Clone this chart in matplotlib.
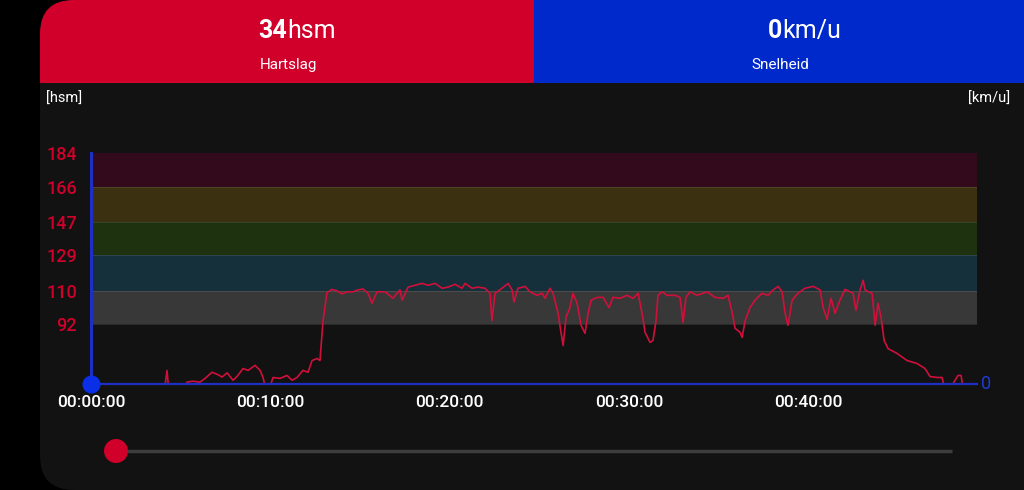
import matplotlib
matplotlib.use('Agg')
import matplotlib.pyplot as plt
from matplotlib.patches import FancyBboxPatch, Rectangle, Circle

plt.rcParams['font.family'] = ['Roboto', 'DejaVu Sans']

# ---------------- data ----------------
minutes = [0.00, 3.85, 4.07, 4.24, 4.35, 4.52, 5.13, 5.35, 5.69, 6.08, 6.36, 6.75, 7.08, 7.31,
           7.59, 7.92, 8.14, 8.48, 8.76, 9.15, 9.43, 9.59, 9.76, 9.93, 10.15, 10.54, 10.93,
           11.21, 11.49, 11.82, 12.10, 12.33, 12.60, 12.77, 12.94, 13.16, 13.44, 13.72, 14.00,
           14.28, 14.61, 14.89, 15.17, 15.45, 15.67, 15.95, 16.40, 16.84, 17.23, 17.35, 17.68,
           18.07, 18.46, 18.80, 19.19, 19.58, 19.91, 20.30, 20.69, 20.86, 21.25, 21.58, 21.97,
           22.25, 22.36, 22.53, 22.92, 23.26, 23.48, 23.59, 23.81, 24.09, 24.21, 24.48, 24.87,
           25.15, 25.32, 25.60, 25.77, 26.05, 26.21, 26.33, 26.49, 26.71, 26.88, 27.11, 27.33,
           27.55, 27.72, 27.89, 28.22, 28.56, 28.89, 29.11, 29.50, 29.89, 30.23, 30.51, 30.73,
           30.90, 31.18, 31.34, 31.51, 31.62, 31.85, 32.12, 32.57, 32.85, 33.02, 33.18, 33.41,
           33.80, 34.36, 34.80, 35.25, 35.53, 35.75, 35.92, 36.20, 36.31, 36.48, 36.75, 37.03,
           37.42, 37.76, 38.04, 38.32, 38.54, 38.71, 38.87, 39.10, 39.43, 39.82, 40.27, 40.66,
           40.83, 41.05, 41.27, 41.49, 41.77, 42.05, 42.33, 42.50, 42.66, 42.89, 43.06, 43.17,
           43.34, 43.56, 43.73, 43.89, 44.06, 44.23, 44.45, 44.95, 45.51, 46.07, 46.51, 46.79,
           47.18, 47.46, 47.63, 47.91, 48.08, 48.35, 48.52, 48.63, 48.80]
heart_rate = [50, 50, 55, 67.3, 55, 50, 52, 61, 61.5, 61, 63, 66.3, 65, 63.7,
              66, 62, 64, 68.3, 67.3, 70, 67.3, 63.5, 57, 57, 63.5, 63, 64.6,
              62, 63.5, 67.3, 66.3, 72.6, 73.7, 72.6, 94, 109, 110.8, 110, 108.4,
              109.5, 109.5, 110.5, 111, 108.7, 103.3, 109.5, 109.5, 106, 110.5, 105, 112,
              113, 114, 113, 114, 111.4, 112, 113.5, 111.4, 114, 111.4, 112, 111.4,
              108.7, 94, 108.7, 111.4, 114, 110.5, 104, 111.4, 112, 112.4, 109.5, 107.6,
              108.7, 106, 111.4, 108.7, 97.9, 87.7, 80.7, 95.8, 101, 108.7, 103.3, 91.5,
              87.2, 97.9, 105, 106.5, 106.5, 101, 106.5, 106, 107.6, 106, 108.7, 97.9,
              87.7, 82.3, 83.4, 94, 107.6, 109.5, 107.6, 107.6, 106.5, 93, 106.5, 109.5,
              107.6, 109.5, 106.5, 106, 107.6, 98.5, 89.9, 87.7, 85, 94, 101, 105,
              108.7, 107.6, 110.5, 112.4, 109.5, 97.9, 91.5, 105, 108.7, 111.4, 112.4, 110.5,
              101, 94.7, 106, 97.9, 105, 110.8, 109.5, 108.7, 99.5, 110.5, 115.7, 110.5,
              109.5, 108.7, 91.5, 103.3, 95.8, 83.4, 79, 76.4, 72.6, 71, 68.3, 64,
              63.5, 63.5, 57, 57, 60.3, 64.6, 64.6, 58, 55]

zone_bounds = [92, 110, 129, 147, 166, 184]
zone_colors = ['#383838', '#15303a', '#1f3210', '#3b3110', '#330a1c']
hr_axis_min = 60
time_max = 49.41
x_ticks = [0, 10, 20, 30, 40]
x_tick_labels = ['00:00:00', '00:10:00', '00:20:00', '00:30:00', '00:40:00']
speed_zero = 0
current_hr = '34'
current_speed = '0'

RED = '#d0002a'
BLUE = '#0029cc'
CARD = '#121212'
LINE_RED = '#d0103a'
AXIS_BLUE = '#1f2fc4'

# ---------------- figure ----------------
W, H = 1024, 490
fig = plt.figure(figsize=(W / 100, H / 100), dpi=100, facecolor='black')

bg = fig.add_axes([0, 0, 1, 1], zorder=0)
bg.set_xlim(0, W)
bg.set_ylim(H, 0)
bg.axis('off')
bg.set_facecolor('black')

card = FancyBboxPatch((40, 0), 1200, 490, boxstyle='round,pad=0,rounding_size=34',
                      fc=CARD, ec='none')
bg.add_patch(card)
r1 = Rectangle((40, 0), 494, 83, fc=RED, ec='none')
r2 = Rectangle((534, 0), 600, 83, fc=BLUE, ec='none')
for r in (r1, r2):
    bg.add_patch(r)
    r.set_clip_path(card)

# header texts
bg.text(287, 31, current_hr, color='white', fontsize=18, fontweight='bold', ha='right', va='center')
bg.text(287, 31, 'hsm', color='white', fontsize=18, ha='left', va='center')
bg.text(288, 65, 'Hartslag', color='white', fontsize=11, ha='center', va='center')
bg.text(782, 31, current_speed, color='white', fontsize=18, fontweight='bold', ha='right', va='center')
bg.text(782, 31, 'km/u', color='white', fontsize=18, ha='left', va='center')
bg.text(780, 65, 'Snelheid', color='white', fontsize=11, ha='center', va='center')
bg.text(46, 99, '[hsm]', color='white', fontsize=10.5, ha='left', va='center')
bg.text(1010, 99, '[km/u]', color='white', fontsize=10.5, ha='right', va='center')

# slider
bg.plot([116, 952], [451, 451], color='#3d3d3d', lw=2.5, solid_capstyle='butt', zorder=2)
bg.add_patch(Circle((116, 451), 12, fc=RED, ec='none', zorder=3))

# ---------------- main chart ----------------
ax = fig.add_axes([91 / W, 106 / H, 886 / W, 231 / H], zorder=2)
ax.set_facecolor('none')
ax.set_xlim(0, time_max)
ax.set_ylim(hr_axis_min, zone_bounds[-1])

for lo, hi, c in zip(zone_bounds[:-1], zone_bounds[1:], zone_colors):
    ax.axhspan(lo, hi, color=c, zorder=0, lw=0)
for b in zone_bounds[:-1]:
    ax.axhline(b, color='#ffffff', alpha=0.10, lw=0.8, zorder=0.5)

ax.plot(minutes, heart_rate, color=LINE_RED, lw=1.2, zorder=3)

# speed baseline (0 km/u)
ax.axhline(hr_axis_min, color=AXIS_BLUE, lw=1.6, zorder=4, clip_on=False)
ax.plot([0], [hr_axis_min], 'o', ms=12, color='#0a2fe6', zorder=5, clip_on=False)

for s in ['top', 'right', 'bottom']:
    ax.spines[s].set_visible(False)
ax.spines['left'].set_color(AXIS_BLUE)
ax.spines['left'].set_linewidth(2.2)

ax.set_yticks(zone_bounds)
ax.set_yticklabels([str(v) for v in zone_bounds])
ax.set_xticks(x_ticks)
ax.set_xticklabels(x_tick_labels)
ax.tick_params(axis='y', length=0, pad=10, labelcolor=RED, labelsize=13)
ax.tick_params(axis='x', length=0, pad=8, labelcolor='white', labelsize=12.5)
for lbl in ax.get_xticklabels() + ax.get_yticklabels():
    lbl.set_fontweight('medium')

ax.text(1.0045, 0, str(speed_zero), transform=ax.transAxes, color='#1f3bd6',
        fontsize=13, ha='left', va='center')

fig.savefig('out.png', dpi=100, facecolor='black')
